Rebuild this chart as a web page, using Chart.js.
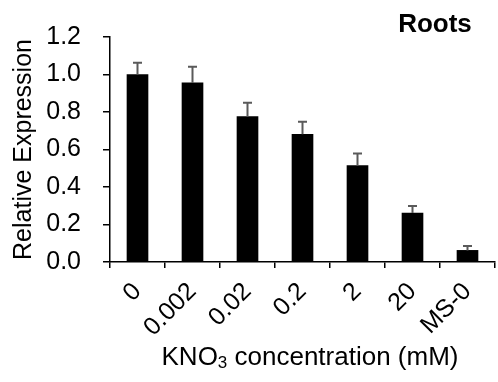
<!DOCTYPE html>
<html>
<head>
<meta charset="utf-8">
<script src="https://cdn.jsdelivr.net/npm/chart.js@4"></script>
<style>
html,body{margin:0;padding:0;background:#fff;}
#wrap{width:498px;height:382px;position:relative;}
</style>
</head>
<body>
<div id="wrap"><canvas id="c" width="498" height="382"></canvas></div>
<script>
const categories = ['0', '0.002', '0.02', '0.2', '2', '20', 'MS-0'];
const expression = [1.0, 0.955, 0.775, 0.681, 0.514, 0.261, 0.062];
const errorUp = [0.063, 0.087, 0.074, 0.067, 0.065, 0.038, 0.023];
const yTicks = [0, 0.2, 0.4, 0.6, 0.8, 1.0, 1.2];
const panelLabel = 'Roots';
const yTitle = 'Relative Expression';
const xTitleParts = ['KNO', '3', ' concentration (mM)'];

const FONT = "'Liberation Sans', Arial, sans-serif";

const errorBarPlugin = {
  id: 'errorBars',
  afterDatasetsDraw(chart) {
    const ctx = chart.ctx;
    const meta = chart.getDatasetMeta(0);
    const ys = chart.scales.y;
    ctx.save();
    ctx.strokeStyle = '#5a5a5a';
    ctx.lineWidth = 2;
    meta.data.forEach((bar, i) => {
      const x = bar.x;
      const yTop = ys.getPixelForValue(expression[i]);
      const yErr = ys.getPixelForValue(expression[i] + errorUp[i]);
      ctx.beginPath();
      ctx.moveTo(x, yTop);
      ctx.lineTo(x, yErr);
      ctx.moveTo(x - 4.5, yErr);
      ctx.lineTo(x + 4.5, yErr);
      ctx.stroke();
    });
    ctx.restore();
  }
};

const textPlugin = {
  id: 'texts',
  afterDraw(chart) {
    const ctx = chart.ctx;
    ctx.save();
    ctx.fillStyle = '#000';
    ctx.font = 'bold 26px ' + FONT;
    ctx.textAlign = 'center';
    ctx.textBaseline = 'alphabetic';
    ctx.fillText(panelLabel, 435, 32);
    ctx.textAlign = 'left';
    const big = '26px ' + FONT, small = '17px ' + FONT;
    ctx.font = big;
    const w1 = ctx.measureText(xTitleParts[0]).width;
    const w3 = ctx.measureText(xTitleParts[2]).width;
    ctx.font = small;
    const w2 = ctx.measureText(xTitleParts[1]).width;
    const total = w1 + w2 + w3;
    let x = 310 - total / 2;
    const base = 365;
    ctx.font = big;
    ctx.fillText(xTitleParts[0], x, base);
    x += w1;
    ctx.font = small;
    ctx.fillText(xTitleParts[1], x, base + 3);
    x += w2;
    ctx.font = big;
    ctx.fillText(xTitleParts[2], x, base);
    ctx.restore();
  }
};

new Chart(document.getElementById('c'), {
  type: 'bar',
  data: {
    labels: categories,
    datasets: [{
      data: expression,
      backgroundColor: '#000',
      borderWidth: 0,
      barThickness: 21
    }]
  },
  options: {
    responsive: false,
    animation: false,
    layout: { padding: { top: 17, right: 3, left: 0, bottom: 0 } },
    plugins: { legend: { display: false }, tooltip: { enabled: false }, title: { display: false } },
    scales: {
      x: {
        offset: true,
        grid: { display: true, offset: true, drawOnChartArea: false, drawTicks: true, tickLength: 6, color: '#000', lineWidth: 1.5 },
        border: { display: true, color: '#000', width: 1.5 },
        ticks: { color: '#000', font: { family: FONT, size: 25 }, minRotation: 45, maxRotation: 45, padding: 9, autoSkip: false },
        afterFit(scale) { scale.height = 120; }
      },
      y: {
        min: 0, max: 1.2,
        afterBuildTicks(scale) { scale.ticks = yTicks.map(v => ({ value: v })); },
        grid: { display: true, drawOnChartArea: false, drawTicks: true, tickLength: 7, color: '#000', lineWidth: 1.5 },
        border: { display: true, color: '#000', width: 1.5 },
        ticks: { color: '#000', font: { family: FONT, size: 25 }, padding: 22, callback: v => Number(v).toFixed(1) },
        title: { display: true, text: yTitle, color: '#000', font: { family: FONT, size: 25 }, padding: { top: 9, bottom: 0 } },
        afterFit(scale) { scale.width = 110; }
      }
    }
  },
  plugins: [errorBarPlugin, textPlugin]
});
</script>
</body>
</html>
